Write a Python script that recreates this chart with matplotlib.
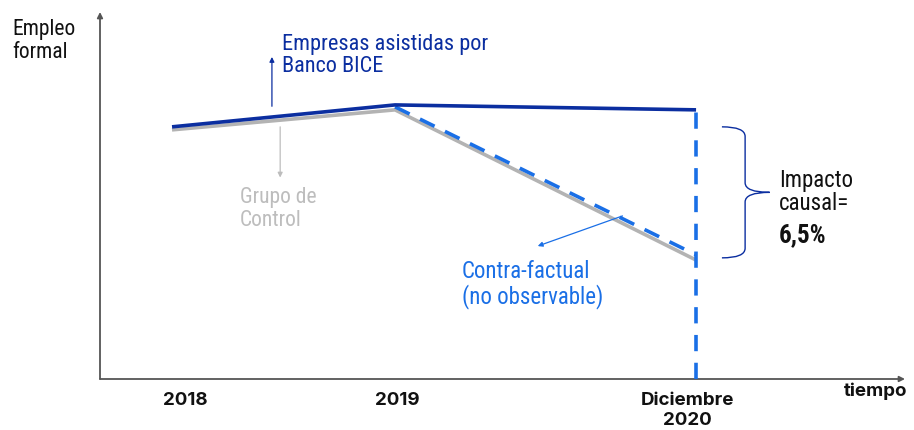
import matplotlib
import matplotlib.pyplot as plt
from matplotlib.path import Path
from matplotlib.patches import PathPatch

matplotlib.use("agg")

# schematic time positions and labels
time_pos = [2018, 2019, 2020.35]
time_labels = ["2018", "2019", "Diciembre\n2020"]

# employment index (2019 treated = 100)
treated = [92.0, 100.0, 98.2]
control = [90.9, 98.2, 43.4]
counterfactual_x = [2019, 2020.35]
counterfactual = [99.3, 45.3]

DARK_BLUE = "#0b2ea0"
LIGHT_BLUE = "#1a6fe6"
GREY = "#b3b3b3"
AXIS = "#555555"

narrow = ["Roboto Condensed", "Liberation Sans Narrow", "Roboto", "DejaVu Sans"]
bold_font = ["Inter", "DejaVu Sans"]

fig = plt.figure(figsize=(9.14, 4.30), dpi=100)
ax = fig.add_axes([100 / 914, 51 / 430, 805 / 914, 367 / 430])
ax.set_xlim(2017.677, 2021.287)
ax.set_ylim(0, 133.9)
for s in ax.spines.values():
    s.set_visible(False)
ax.set_xticks([])
ax.set_yticks([])

# axes with arrows
ax.annotate("", xy=(0, 1), xytext=(0, 0), xycoords="axes fraction",
            arrowprops=dict(arrowstyle="-|>", color=AXIS, lw=1.3,
                            mutation_scale=8, shrinkA=0, shrinkB=0))
ax.annotate("", xy=(1, 0), xytext=(0, 0), xycoords="axes fraction",
            arrowprops=dict(arrowstyle="-|>", color=AXIS, lw=1.3,
                            mutation_scale=8, shrinkA=0, shrinkB=0))

# series
ax.plot(time_pos, control, color=GREY, lw=2.6, solid_capstyle="butt", zorder=2)
ax.plot(counterfactual_x, counterfactual, color=LIGHT_BLUE, lw=2.6,
        dashes=(4.5, 3.2), zorder=3)
ax.plot(time_pos, treated, color=DARK_BLUE, lw=2.6, solid_capstyle="butt", zorder=4)
ax.axvline(time_pos[2], ymin=0, ymax=treated[2] / 133.9, color=LIGHT_BLUE,
           lw=2.6, dashes=(4.5, 3.2), zorder=3)

# tick labels (slightly shifted from the mark positions, as in the original)
label_x = [2018.06, 2019.01, 2020.31]
for x, lab in zip(label_x, time_labels):
    ax.text(x, -4.8, lab, ha="center", va="top", fontsize=13.5,
            fontweight="bold", family=bold_font, linespacing=1.22, color="#111111")
fig.text(876 / 914, 1 - 383 / 430, "tiempo", ha="center", va="top",
         fontsize=13.5, fontweight="bold", family=bold_font, color="#111111")

# y label
fig.text(12 / 914, 1 - 19 / 430, "Empleo\nformal", ha="left", va="top",
         fontsize=15.5, family=narrow, color="#111111", linespacing=1.1)

# annotations
ax.text(2018.495, 126, "Empresas asistidas por\nBanco BICE", ha="left", va="top",
        fontsize=16, family=narrow, color=DARK_BLUE, linespacing=1.1)
ax.annotate("", xy=(2018.448, 117.5), xytext=(2018.448, 99.5),
            arrowprops=dict(arrowstyle="-|>", color=DARK_BLUE, lw=0.9,
                            mutation_scale=7, shrinkA=0, shrinkB=0))

ax.text(2018.305, 70, "Grupo de\nControl", ha="left", va="top",
        fontsize=15.5, family=narrow, color="#bdbdbd", linespacing=1.1)
ax.annotate("", xy=(2018.485, 73.5), xytext=(2018.485, 92),
            arrowprops=dict(arrowstyle="-|>", color="#bdbdbd", lw=0.9,
                            mutation_scale=7, shrinkA=0, shrinkB=0))

ax.text(2019.30, 43.5, "Contra-factual\n(no observable)", ha="left", va="top",
        fontsize=16.5, family=narrow, color=LIGHT_BLUE, linespacing=1.05)
ax.annotate("", xy=(2019.64, 48.5), xytext=(2020.02, 59.5),
            arrowprops=dict(arrowstyle="-|>", color=LIGHT_BLUE, lw=0.9,
                            mutation_scale=7, shrinkA=0, shrinkB=0))

# curly brace for impact
x0, x1, xt = 2020.466, 2020.57, 2020.68
ytop, ybot = 92.0, 44.2
ymid = (ytop + ybot) / 2
verts = [(x0, ytop), (x1, ytop), (x1, ytop - 3.5),
         (x1, ymid + 3.5), (x1, ymid), (xt, ymid),
         (x1, ymid), (x1, ymid - 3.5),
         (x1, ybot + 3.5), (x1, ybot), (x0, ybot)]
codes = [Path.MOVETO, Path.CURVE3, Path.CURVE3,
         Path.LINETO, Path.CURVE3, Path.CURVE3,
         Path.CURVE3, Path.CURVE3,
         Path.LINETO, Path.CURVE3, Path.CURVE3]
ax.add_patch(PathPatch(Path(verts, codes), fill=False, edgecolor=DARK_BLUE, lw=1.0))

ax.text(2020.722, 76.5, "Impacto\ncausal=", ha="left", va="top", fontsize=16.5,
        family=narrow, color="#111111", linespacing=1.0)
ax.text(2020.722, 52.5, "6,5%", ha="left", va="center", fontsize=18,
        fontweight="bold", family=narrow, color="#111111")

fig.savefig("out.png", dpi=100)
